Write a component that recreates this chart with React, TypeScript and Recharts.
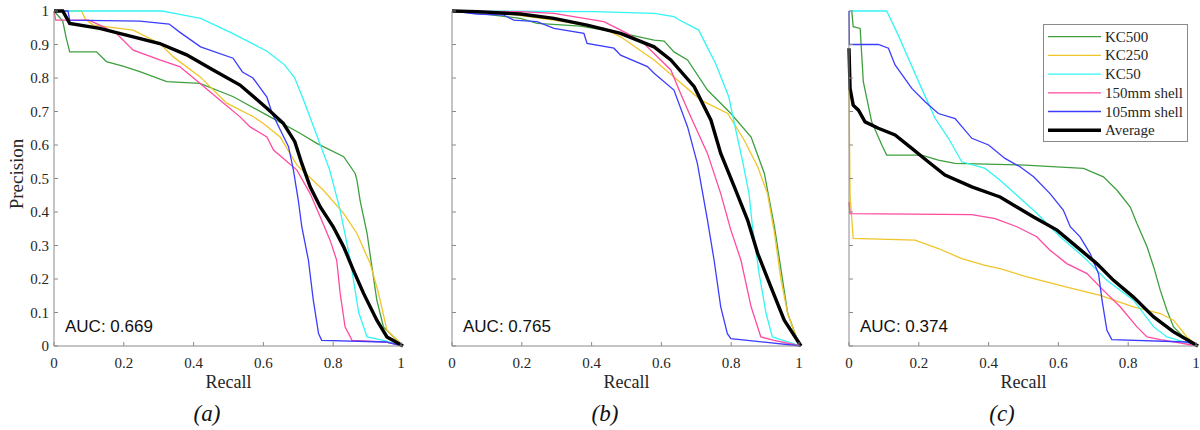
import React from "react";
import { LineChart, Line, XAxis, YAxis, Legend } from "recharts";

// ─── Data (recall, precision) ─────────────────────────────────────────────────

type Pt = [number, number];

const seriesNames = ["KC500", "KC250", "KC50", "150mm shell", "105mm shell", "Average"];
const seriesColors = ["#3f9f3f", "#f0c52a", "#33f5f5", "#ff4aa0", "#3c3cff", "#000000"];
const seriesWidths = [1.3, 1.3, 1.3, 1.3, 1.3, 3.4];

const xTicks = [0, 0.2, 0.4, 0.6, 0.8, 1];
const yTicks = [0, 0.1, 0.2, 0.3, 0.4, 0.5, 0.6, 0.7, 0.8, 0.9, 1];

const panelLabels = ["(a)", "(b)", "(c)"];
const aucValues = ["0.669", "0.765", "0.374"];

// panel (a)
const aKC500: Pt[] = [[0, 1], [0.025, 0.97], [0.035, 0.92], [0.045, 0.878], [0.122, 0.878], [0.15, 0.849], [0.2, 0.835], [0.246, 0.819], [0.323, 0.789], [0.418, 0.784], [0.514, 0.744], [0.61, 0.689], [0.705, 0.635], [0.753, 0.605], [0.83, 0.565], [0.863, 0.515], [0.868, 0.495], [0.877, 0.435], [0.897, 0.336], [0.911, 0.236], [0.925, 0.137], [0.944, 0.057], [1, 0]];
const aKC250: Pt[] = [[0, 1], [0.079, 1], [0.09, 0.975], [0.112, 0.958], [0.227, 0.943], [0.303, 0.903], [0.342, 0.863], [0.418, 0.804], [0.495, 0.725], [0.57, 0.685], [0.6, 0.664], [0.648, 0.624], [0.696, 0.54], [0.772, 0.465], [0.83, 0.396], [0.868, 0.336], [0.906, 0.246], [0.93, 0.157], [0.954, 0.047], [1, 0]];
const aKC50: Pt[] = [[0, 1], [0.31, 1], [0.36, 0.99], [0.42, 0.978], [0.51, 0.934], [0.61, 0.88], [0.66, 0.84], [0.69, 0.8], [0.715, 0.734], [0.758, 0.615], [0.79, 0.525], [0.82, 0.405], [0.849, 0.256], [0.873, 0.1], [0.897, 0.027], [0.95, 0.015], [1, 0]];
const a150: Pt[] = [[0, 1], [0.005, 0.973], [0.1, 0.973], [0.131, 0.958], [0.179, 0.933], [0.227, 0.883], [0.303, 0.854], [0.36, 0.834], [0.418, 0.784], [0.475, 0.734], [0.533, 0.684], [0.562, 0.654], [0.61, 0.624], [0.629, 0.585], [0.696, 0.525], [0.734, 0.455], [0.763, 0.385], [0.791, 0.316], [0.81, 0.256], [0.82, 0.157], [0.834, 0.057], [0.854, 0.017], [0.95, 0.012], [1, 0]];
const a105: Pt[] = [[0, 1], [0.04, 1], [0.045, 0.973], [0.246, 0.97], [0.33, 0.961], [0.36, 0.937], [0.42, 0.893], [0.513, 0.859], [0.54, 0.818], [0.57, 0.8], [0.61, 0.743], [0.625, 0.695], [0.672, 0.595], [0.686, 0.525], [0.7, 0.435], [0.71, 0.356], [0.729, 0.256], [0.743, 0.137], [0.758, 0.037], [0.767, 0.017], [0.95, 0.012], [1, 0]];
const aAvg: Pt[] = [[0, 1], [0.025, 1], [0.045, 0.963], [0.131, 0.948], [0.227, 0.923], [0.303, 0.903], [0.38, 0.869], [0.456, 0.824], [0.533, 0.779], [0.61, 0.71], [0.657, 0.665], [0.69, 0.61], [0.71, 0.545], [0.734, 0.475], [0.763, 0.415], [0.8, 0.356], [0.83, 0.296], [0.858, 0.226], [0.887, 0.157], [0.925, 0.077], [0.954, 0.027], [1, 0]];

// panel (b)
const bKC500: Pt[] = [[0, 1], [0.1, 0.99], [0.196, 0.978], [0.244, 0.963], [0.368, 0.955], [0.483, 0.935], [0.579, 0.913], [0.608, 0.91], [0.636, 0.878], [0.675, 0.854], [0.732, 0.764], [0.799, 0.694], [0.857, 0.624], [0.895, 0.515], [0.924, 0.356], [0.943, 0.226], [0.962, 0.097], [0.99, 0.017], [1, 0]];
const bKC250: Pt[] = [[0, 1], [0.148, 0.993], [0.292, 0.973], [0.435, 0.948], [0.483, 0.923], [0.579, 0.854], [0.646, 0.794], [0.713, 0.734], [0.79, 0.694], [0.837, 0.615], [0.876, 0.535], [0.904, 0.455], [0.924, 0.336], [0.943, 0.196], [0.962, 0.097], [0.986, 0.027], [1, 0]];
const bKC50: Pt[] = [[0, 1], [0.407, 0.998], [0.579, 0.993], [0.636, 0.983], [0.65, 0.974], [0.707, 0.943], [0.731, 0.893], [0.755, 0.844], [0.793, 0.744], [0.813, 0.645], [0.832, 0.555], [0.851, 0.455], [0.861, 0.356], [0.88, 0.216], [0.9, 0.097], [0.918, 0.027], [1, 0]];
const b150: Pt[] = [[0, 1], [0.196, 0.998], [0.292, 0.993], [0.435, 0.968], [0.502, 0.933], [0.55, 0.903], [0.627, 0.824], [0.655, 0.754], [0.684, 0.684], [0.732, 0.575], [0.77, 0.455], [0.799, 0.346], [0.828, 0.256], [0.857, 0.117], [0.885, 0.027], [0.923, 0.017], [1, 0]];
const b105: Pt[] = [[0, 1], [0.072, 0.991], [0.148, 0.988], [0.177, 0.973], [0.244, 0.968], [0.292, 0.948], [0.378, 0.933], [0.387, 0.903], [0.464, 0.889], [0.483, 0.868], [0.56, 0.834], [0.579, 0.814], [0.636, 0.764], [0.675, 0.654], [0.703, 0.545], [0.732, 0.376], [0.751, 0.256], [0.77, 0.117], [0.789, 0.037], [0.799, 0.022], [1, 0]];
const bAvg: Pt[] = [[0, 1], [0.072, 0.998], [0.196, 0.991], [0.292, 0.978], [0.387, 0.958], [0.483, 0.933], [0.579, 0.893], [0.627, 0.854], [0.694, 0.774], [0.742, 0.674], [0.77, 0.575], [0.809, 0.475], [0.847, 0.376], [0.876, 0.276], [0.914, 0.176], [0.952, 0.077], [1, 0]];

// panel (c)
const cKC500: Pt[] = [[0.008, 1], [0.012, 0.953], [0.032, 0.948], [0.041, 0.789], [0.065, 0.669], [0.094, 0.6], [0.108, 0.57], [0.208, 0.57], [0.256, 0.555], [0.304, 0.545], [0.505, 0.54], [0.672, 0.53], [0.729, 0.505], [0.768, 0.465], [0.806, 0.415], [0.825, 0.366], [0.854, 0.296], [0.873, 0.236], [0.892, 0.166], [0.911, 0.107], [0.93, 0.057], [0.959, 0.027], [1, 0]];
const cKC250: Pt[] = [[0, 0.77], [0.003, 0.45], [0.012, 0.321], [0.189, 0.316], [0.256, 0.291], [0.323, 0.261], [0.39, 0.241], [0.433, 0.231], [0.51, 0.206], [0.624, 0.176], [0.72, 0.151], [0.815, 0.117], [0.892, 0.097], [0.93, 0.077], [0.968, 0.027], [1, 0]];
const cKC50: Pt[] = [[0, 1], [0.108, 1], [0.141, 0.928], [0.17, 0.859], [0.208, 0.769], [0.247, 0.679], [0.285, 0.62], [0.323, 0.55], [0.39, 0.53], [0.433, 0.495], [0.481, 0.45], [0.538, 0.396], [0.605, 0.326], [0.672, 0.266], [0.739, 0.196], [0.815, 0.137], [0.873, 0.057], [0.911, 0.027], [1, 0]];
const c150: Pt[] = [[0, 0.43], [0.003, 0.395], [0.352, 0.392], [0.419, 0.38], [0.481, 0.356], [0.538, 0.326], [0.576, 0.286], [0.624, 0.246], [0.682, 0.216], [0.729, 0.166], [0.777, 0.117], [0.825, 0.057], [0.854, 0.027], [0.892, 0.019], [1, 0]];
const c105: Pt[] = [[0, 1], [0.001, 0.9], [0.084, 0.9], [0.113, 0.889], [0.132, 0.839], [0.18, 0.769], [0.218, 0.729], [0.256, 0.694], [0.304, 0.679], [0.352, 0.62], [0.4, 0.6], [0.447, 0.56], [0.49, 0.535], [0.529, 0.505], [0.576, 0.455], [0.614, 0.406], [0.634, 0.356], [0.662, 0.326], [0.691, 0.276], [0.715, 0.216], [0.725, 0.137], [0.739, 0.047], [0.753, 0.019], [0.968, 0.012], [1, 0]];
const cAvg: Pt[] = [[0, 0.889], [0.003, 0.769], [0.012, 0.719], [0.027, 0.704], [0.046, 0.669], [0.084, 0.65], [0.132, 0.63], [0.18, 0.59], [0.227, 0.55], [0.275, 0.51], [0.352, 0.475], [0.419, 0.45], [0.433, 0.445], [0.529, 0.385], [0.596, 0.346], [0.653, 0.296], [0.71, 0.246], [0.758, 0.196], [0.815, 0.146], [0.873, 0.087], [0.93, 0.042], [1, 0]];

const panelSeries: Pt[][][] = [
  [aKC500, aKC250, aKC50, a150, a105, aAvg],
  [bKC500, bKC250, bKC50, b150, b105, bAvg],
  [cKC500, cKC250, cKC50, c150, c105, cAvg],
];

// ─── Layout ───────────────────────────────────────────────────────────────────

const AXIS = "#8a8a8a";
const INK = "#262626";
const SERIF = "'Liberation Serif', 'Times New Roman', serif";
const SANS = "'Liberation Sans', Arial, sans-serif";

const CHART_W = 405;
const CHART_H = 430;
const panelLeft = [0, 398, 795];

const toPts = (arr: Pt[]) => arr.map(([r, p]) => ({ r, p }));

// ─── Ticks (MATLAB style, pointing inwards) ────────────────────────────────────

// eslint-disable-next-line @typescript-eslint/no-explicit-any
function XTick(props: any) {
  const { x, y, payload } = props;
  return (
    <g>
      <line x1={x} y1={y} x2={x} y2={y - 4} stroke={AXIS} strokeWidth={1} />
      <text x={x} y={y + 22} textAnchor="middle" fontFamily={SERIF} fontSize={15} fill={INK}>
        {String(payload.value)}
      </text>
    </g>
  );
}

// eslint-disable-next-line @typescript-eslint/no-explicit-any
function YTick(props: any) {
  const { x, y, payload, showLabel } = props;
  return (
    <g>
      <line x1={x} y1={y} x2={x + 4} y2={y} stroke={AXIS} strokeWidth={1} />
      {showLabel && (
        <text x={x - 5} y={y + 5} textAnchor="end" fontFamily={SERIF} fontSize={15} fill={INK}>
          {String(payload.value)}
        </text>
      )}
    </g>
  );
}

// ─── Legend ───────────────────────────────────────────────────────────────────

// eslint-disable-next-line @typescript-eslint/no-explicit-any
function LegendBox(props: any) {
  // keep the plotting order, not the alphabetical one
  // eslint-disable-next-line @typescript-eslint/no-explicit-any
  const payload = [...(props.payload ?? [])].sort(
    (a: any, b: any) => seriesNames.indexOf(a.value) - seriesNames.indexOf(b.value)
  );
  return (
    <div style={{ width: 143, height: 116, border: `1px solid ${AXIS}`, background: "#fff" }}>
      <svg width={143} height={116}>
        {/* eslint-disable-next-line @typescript-eslint/no-explicit-any */}
        {payload.map((entry: any, i: number) => {
          const idx = seriesNames.indexOf(entry.value);
          const cy = 11.7 + i * 18.7;
          return (
            <g key={entry.value}>
              <line x1={4} y1={cy} x2={57} y2={cy} stroke={entry.color} strokeWidth={seriesWidths[idx] ?? 1.3} />
              <text x={61} y={cy + 5} fontFamily={SERIF} fontSize={15} fill={INK}>
                {entry.value}
              </text>
            </g>
          );
        })}
      </svg>
    </div>
  );
}

// ─── Panel ────────────────────────────────────────────────────────────────────

function Panel({ index }: { index: number }) {
  const series = panelSeries[index];
  return (
    <div style={{ position: "absolute", left: panelLeft[index], top: 0 }}>
      <LineChart width={CHART_W} height={CHART_H} margin={{ top: 11, right: 2, bottom: 54, left: 0 }}>
        <XAxis
          type="number"
          dataKey="r"
          domain={[0, 1]}
          ticks={xTicks}
          height={30}
          axisLine={{ stroke: AXIS }}
          tickLine={false}
          tickSize={0}
          tickMargin={0}
          tick={<XTick />}
          label={{
            // eslint-disable-next-line @typescript-eslint/no-explicit-any
            content: (p: any) => (
              <text
                x={p.viewBox.x + p.viewBox.width / 2}
                y={388}
                textAnchor="middle"
                fontFamily={SERIF}
                fontSize={18}
                fill={INK}
              >
                Recall
              </text>
            ),
          }}
        />
        <YAxis
          type="number"
          domain={[0, 1]}
          ticks={yTicks}
          width={54}
          axisLine={{ stroke: AXIS }}
          tickLine={false}
          tickSize={0}
          tickMargin={0}
          tick={<YTick showLabel={index === 0} />}
          label={
            index === 0
              ? {
                  content: () => (
                    <text
                      x={23}
                      y={174}
                      transform="rotate(-90, 23, 174)"
                      textAnchor="middle"
                      fontFamily={SERIF}
                      fontSize={19}
                      fill={INK}
                    >
                      Precision
                    </text>
                  ),
                }
              : undefined
          }
        />
        {series.map((pts, i) => (
          <Line
            key={seriesNames[i]}
            name={seriesNames[i]}
            data={toPts(pts)}
            dataKey="p"
            type="linear"
            stroke={seriesColors[i]}
            strokeWidth={seriesWidths[i]}
            dot={false}
            activeDot={false}
            isAnimationActive={false}
          />
        ))}
        {index === 2 && (
          <Legend
            layout="vertical"
            align="center"
            verticalAlign="middle"
            content={<LegendBox />}
            wrapperStyle={{ left: 248, top: 24, width: 145, height: 118 }}
          />
        )}
      </LineChart>
    </div>
  );
}

export default function App() {
  return (
    <div
      style={{
        position: "absolute",
        left: 0,
        top: 0,
        width: 1200,
        height: 430,
        overflow: "hidden",
        background: "#fff",
      }}
    >
      {panelLabels.map((_, i) => (
        <Panel key={i} index={i} />
      ))}
      <svg width={1200} height={430} style={{ position: "absolute", left: 0, top: 0, pointerEvents: "none" }}>
        {aucValues.map((v, i) => (
          <text key={v} x={panelLeft[i] + 65} y={332} fontFamily={SANS} fontSize={17} fill="#111">
            AUC: {v}
          </text>
        ))}
        {panelLabels.map((l, i) => (
          <text
            key={l}
            x={panelLeft[i] + 207}
            y={421}
            textAnchor="middle"
            fontFamily={SERIF}
            fontStyle="italic"
            fontSize={23}
            fill="#111"
          >
            {l}
          </text>
        ))}
      </svg>
    </div>
  );
}
